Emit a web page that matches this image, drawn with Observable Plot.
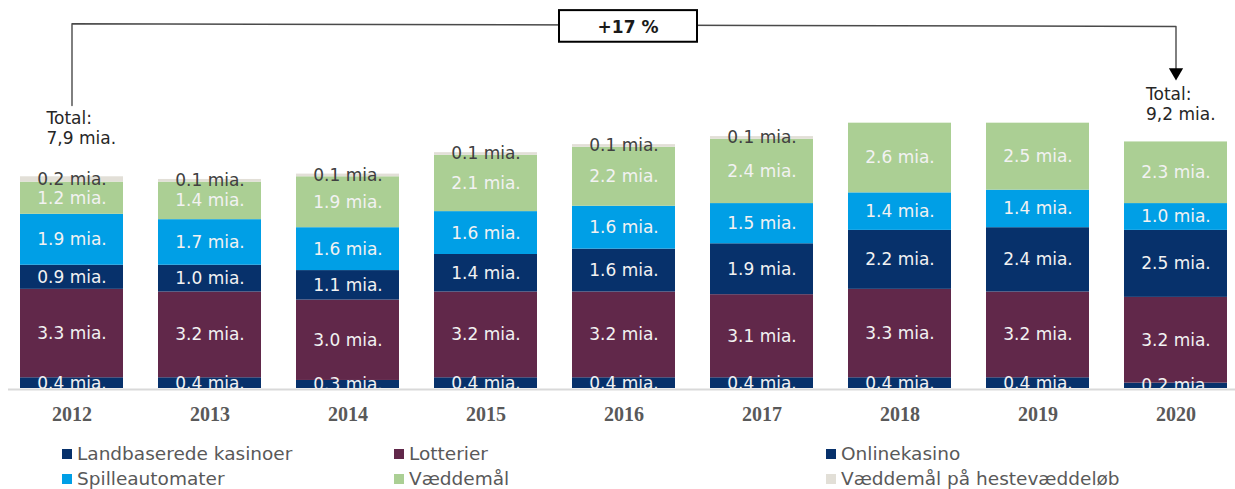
<!DOCTYPE html>
<html><head><meta charset="utf-8">
<script src="https://cdn.jsdelivr.net/npm/d3@7"></script>
<script src="https://cdn.jsdelivr.net/npm/@observablehq/plot@0.6"></script>
<style>
body{margin:0;background:#fff;font-family:"DejaVu Sans",Verdana,sans-serif;}
#wrap{position:relative;width:1235px;height:489px;overflow:hidden;background:#fff;}
#wrap svg{display:block;}
.lg{position:absolute;height:24px;line-height:24px;display:flex;align-items:center;font-size:18.5px;color:#595959;white-space:nowrap;}
.lg .sw{width:10px;height:10px;margin-right:5px;flex:none;}
</style></head><body><div id="wrap"></div>
<script>
const years = ["2012","2013","2014","2015","2016","2017","2018","2019","2020"];
const seriesNames = ["Landbaserede kasinoer","Lotterier","Onlinekasino","Spilleautomater","Væddemål","Væddemål på hestevæddeløb"];
const seriesColors = ["#07316b","#61284a","#07316b","#009fe6","#abcf94","#e2dfd7"];
const landbaserede = [0.4,0.4,0.3,0.4,0.4,0.4,0.4,0.4,0.2];
const lotterier = [3.3,3.2,3.0,3.2,3.2,3.1,3.3,3.2,3.2];
const onlinekasino = [0.9,1.0,1.1,1.4,1.6,1.9,2.2,2.4,2.5];
const spilleautomater = [1.9,1.7,1.6,1.6,1.6,1.5,1.4,1.4,1.0];
const vaeddemaal = [1.2,1.4,1.9,2.1,2.2,2.4,2.6,2.5,2.3];
const hestevaeddeloeb = [0.2,0.1,0.1,0.1,0.1,0.1,0,0,0];
const totalLabels = {first: "Total:\n7,9 mia.", last: "Total:\n9,2 mia."};
const changeLabel = "+17 %";

const seriesValues = [landbaserede, lotterier, onlinekasino, spilleautomater, vaeddemaal, hestevaeddeloeb];
const rows = [];
years.forEach((yr, i) => {
  seriesNames.forEach((s, j) => rows.push({year: yr, series: s, value: seriesValues[j][i]}));
});
const lastSeries = seriesNames[5];

const plot = Plot.plot({
  width: 1235, height: 440,
  marginLeft: 8, marginRight: 0, marginTop: 120, marginBottom: 52,
  x: {type: "band", domain: years, range: [1, 1246], paddingInner: 0.255, paddingOuter: 0.1275, align: 0.5},
  y: {domain: [0, 10], axis: null},
  color: {domain: seriesNames, range: seriesColors},
  style: {fontFamily: "DejaVu Sans", background: "white"},
  marks: [
    Plot.barY(rows, {x: "year", y: "value", fill: "series", order: null}),
    Plot.text(rows, Plot.stackY({
      x: "year", y: "value", z: "series",
      text: d => d.value > 0 ? d.value.toFixed(1) + " mia." : null,
      fill: d => d.series === lastSeries ? "#404040" : "#f2f2f2",
      fontSize: 17, clip: true
    })),
    Plot.ruleY([0], {stroke: "#d9d9d9", strokeWidth: 2, dy: 1}),
    Plot.axisX({tickSize: 0, tickPadding: 18, fontSize: 20, fontWeight: "bold", fontFamily: "Liberation Serif", color: "#595959", label: null}),
    // bracket annotation
    Plot.line([{x: "2012", y: 10.56}, {x: "2012", y: 13.61}, {x: "2020", y: 13.51}, {x: "2020", y: 11.8}],
      {x: "x", y: "y", stroke: "#4a4a4a", strokeWidth: 1.4, curve: "linear"}),
    Plot.dot([{x: "2020", y: 11.8}], {x: "x", y: "y", symbol: "triangle", rotate: 180, r: 5.3, fill: "black", stroke: null}),
    Plot.barY([{x: "2016", y1: 12.92, y2: 14.1}], {x: "x", y1: "y1", y2: "y2", fill: "white", stroke: "black", strokeWidth: 2, insetLeft: -13, insetRight: -22}),
    Plot.text([{x: "2016", y: 13.48}], {x: "x", y: "y", text: () => changeLabel, dx: 4, fontSize: 17, fontWeight: "bold", fill: "#1a1a1a"}),
    Plot.text([{x: "2012", y: 9.74}], {x: "x", y: "y", text: () => totalLabels.first, dx: -25.5, textAnchor: "start", fontSize: 17, lineHeight: 1.17, fill: "#262626"}),
    Plot.text([{x: "2020", y: 10.63}], {x: "x", y: "y", text: () => totalLabels.last, dx: -30, textAnchor: "start", fontSize: 17, lineHeight: 1.17, fill: "#262626"})
  ]
});
const wrap = document.getElementById("wrap");
wrap.appendChild(plot);

const legendPos = [[62, 442], [394, 442], [826, 442], [62, 467], [394, 467], [826, 467]];
seriesNames.forEach((s, i) => {
  const d = document.createElement("div");
  d.className = "lg";
  d.style.left = legendPos[i][0] + "px";
  d.style.top = legendPos[i][1] + "px";
  const sw = document.createElement("span");
  sw.className = "sw";
  sw.style.background = seriesColors[i];
  const t = document.createElement("span");
  t.textContent = s;
  d.appendChild(sw); d.appendChild(t);
  wrap.appendChild(d);
});
</script></body></html>
